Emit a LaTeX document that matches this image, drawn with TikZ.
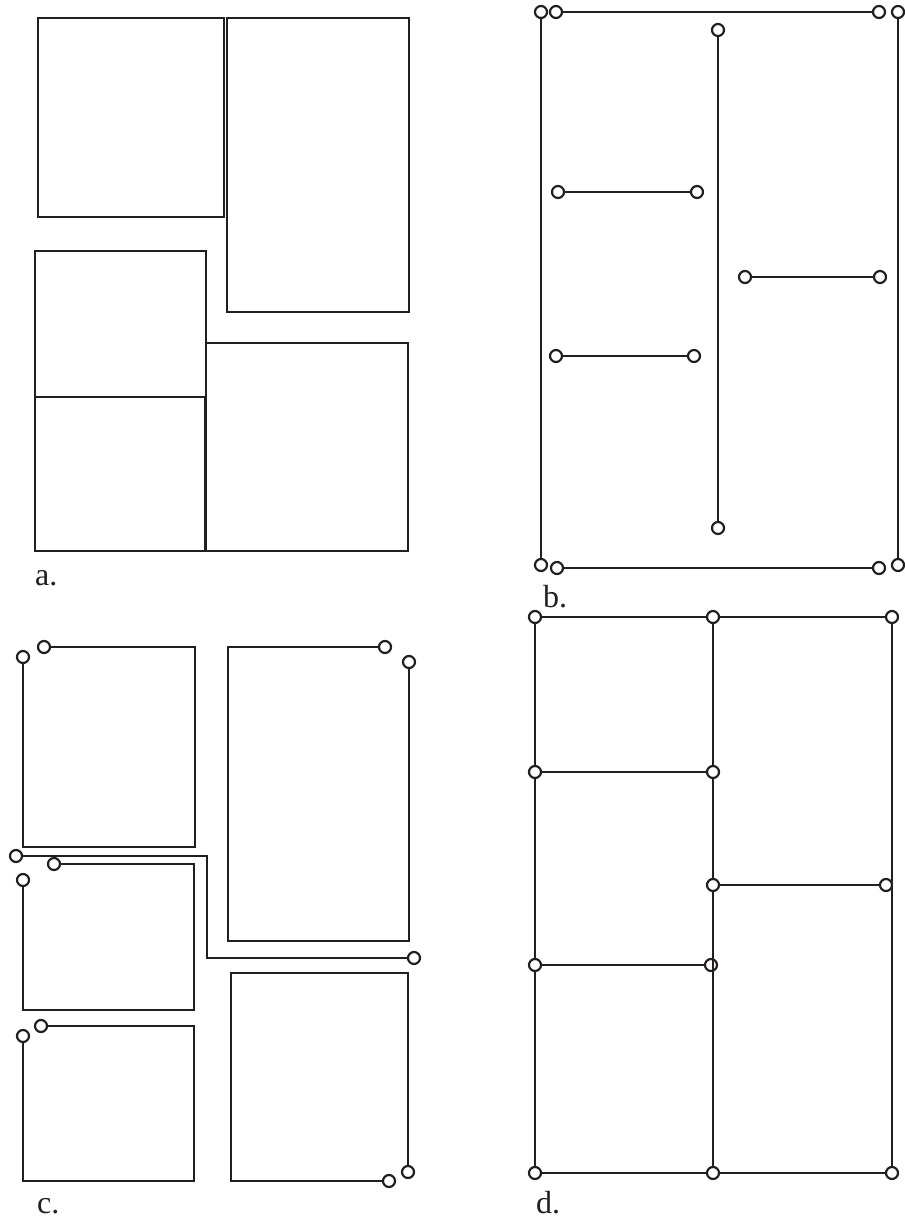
\documentclass[tikz,border=0pt]{standalone}
\usepackage{fontspec}
\setmainfont{Liberation Serif}
\definecolor{LineClr}{RGB}{35,31,32}
\tikzset{
  wall/.style={line width=2.6pt,color=LineClr,line join=miter},
  pin/.style={circle,draw=LineClr,line width=2.2pt,fill=white,inner sep=0pt,minimum size=12pt},
  tag/.style={anchor=base west,inner sep=0pt,text=LineClr,font=\fontsize{32}{36}\selectfont}
}

\begin{document}
\begin{tikzpicture}[x=1pt,y=-1pt]
\useasboundingbox (0,0) rectangle (905,1221);

\draw[wall] (38,18) rectangle (224,217);
\draw[wall] (227,18) rectangle (409,312);
\draw[wall] (35,251) rectangle (206,397);
\draw[wall] (35,397) rectangle (205,551);
\draw[wall] (206,343) rectangle (408,551);
\node[tag] (la) at (35,585) {a.};

\node[pin] (b1) at (541,12) {};
\node[pin] (b2) at (556,12) {};
\node[pin] (b3) at (879,12) {};
\node[pin] (b4) at (898,12) {};
\node[pin] (b5) at (541,565) {};
\node[pin] (b6) at (557,568) {};
\node[pin] (b7) at (879,568) {};
\node[pin] (b8) at (898,565) {};
\node[pin] (b9) at (718,30) {};
\node[pin] (b10) at (718,528) {};
\node[pin] (b11) at (558,192) {};
\node[pin] (b12) at (697,192) {};
\node[pin] (b13) at (745,277) {};
\node[pin] (b14) at (880,277) {};
\node[pin] (b15) at (556,356) {};
\node[pin] (b16) at (694,356) {};
\draw[wall] (b1) -- (b5) (b2) -- (b3) (b4) -- (b8) (b6) -- (b7);
\draw[wall] (b9) -- (b10) (b11) -- (b12) (b13) -- (b14) (b15) -- (b16);
\node[tag] (lb) at (543,607) {b.};

\node[pin] (c1) at (44,647) {};
\node[pin] (c2) at (23,657) {};
\node[pin] (c3) at (385,647) {};
\node[pin] (c4) at (409,662) {};
\node[pin] (c5) at (16,856) {};
\node[pin] (c6) at (414,958) {};
\node[pin] (c7) at (54,864) {};
\node[pin] (c8) at (23,880) {};
\node[pin] (c9) at (41,1026) {};
\node[pin] (c10) at (23,1036) {};
\node[pin] (c11) at (389,1181) {};
\node[pin] (c12) at (408,1172) {};
\draw[wall] (c1) -| (195,847) -| (c2);
\draw[wall] (c3) -| (228,941) -| (c4);
\draw[wall] (c5) -| (207,958) -- (c6);
\draw[wall] (c7) -| (194,1010) -| (c8);
\draw[wall] (c9) -| (194,1181) -| (c10);
\draw[wall] (c11) -| (231,973) -| (c12);
\node[tag] (lc) at (37,1213) {c.};

\node[pin] (d1) at (535,617) {};
\node[pin] (d2) at (713,617) {};
\node[pin] (d3) at (892,617) {};
\node[pin] (d4) at (535,1173) {};
\node[pin] (d5) at (713,1173) {};
\node[pin] (d6) at (892,1173) {};
\node[pin] (d7) at (535,772) {};
\node[pin] (d8) at (713,772) {};
\node[pin] (d9) at (713,885) {};
\node[pin] (d10) at (886,885) {};
\node[pin] (d11) at (535,965) {};
\node[pin] (d12) at (711,965) {};
\draw[wall] (d1) -- (d2) -- (d3) -- (d6) -- (d5) -- (d4) -- (d11) -- (d7) -- (d1);
\draw[wall] (d2) -- (d8) -- (d9) -- (d5);
\draw[wall] (d7) -- (d8) (d9) -- (d10) (d11) -- (d12);
\node[tag] (ld) at (536,1213) {d.};

\end{tikzpicture}
\end{document}
